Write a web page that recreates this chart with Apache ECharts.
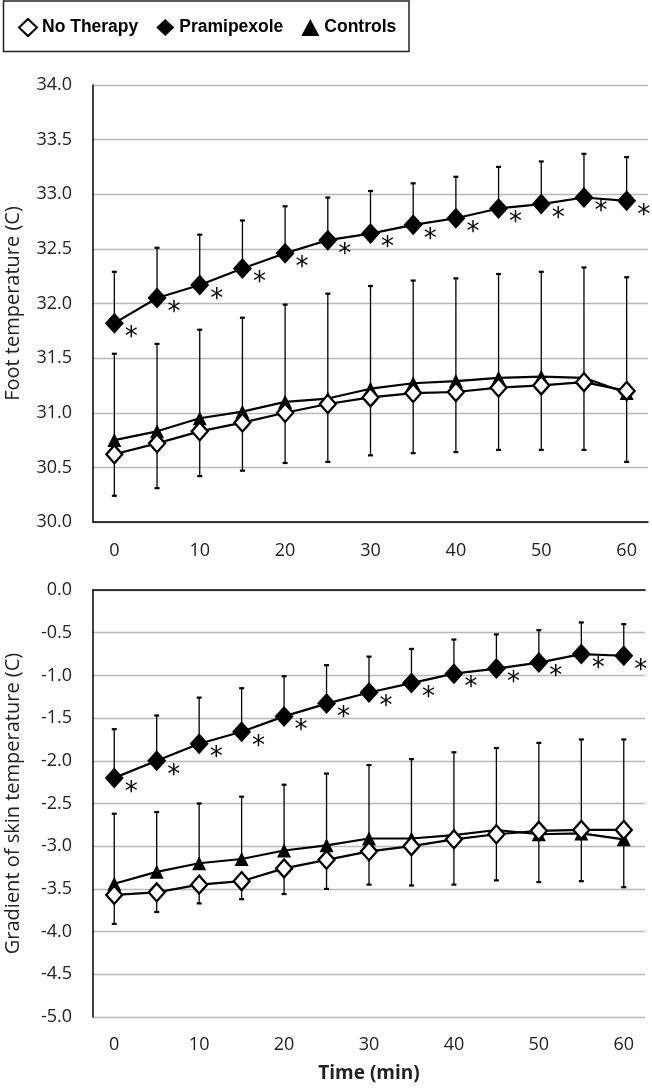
<!DOCTYPE html>
<html>
<head>
<meta charset="utf-8">
<script src="https://cdn.jsdelivr.net/npm/echarts@6/dist/echarts.min.js"></script>
<style>
html,body{margin:0;padding:0;background:#fff;}
#chart{width:652px;height:1090px;}
</style>
</head>
<body>
<div id="chart"></div>
<script>
// ---- data ----
const timeLabels = ['0','5','10','15','20','25','30','35','40','45','50','55','60'];
const seriesNames = ['No Therapy','Pramipexole','Controls'];

// Foot temperature (C)
const footNoTherapy    = [30.62,30.72,30.83,30.91,31.00,31.08,31.14,31.18,31.19,31.23,31.25,31.28,31.20];
const footNoTherapyLow = [30.24,30.31,30.42,30.47,30.54,30.55,30.61,30.63,30.64,30.66,30.66,30.66,30.55];
const footPrami        = [31.82,32.05,32.17,32.32,32.46,32.58,32.64,32.72,32.78,32.87,32.91,32.97,32.94];
const footPramiHigh    = [32.29,32.51,32.63,32.76,32.89,32.97,33.03,33.10,33.16,33.25,33.30,33.37,33.34];
const footControls     = [30.75,30.83,30.95,31.01,31.10,31.13,31.22,31.27,31.29,31.32,31.33,31.32,31.18];
const footControlsHigh = [31.54,31.63,31.76,31.87,31.99,32.09,32.16,32.21,32.23,32.27,32.29,32.33,32.24];

// Gradient of skin temperature (C)
const gradNoTherapy    = [-3.57,-3.54,-3.45,-3.41,-3.26,-3.16,-3.06,-3.00,-2.92,-2.86,-2.82,-2.81,-2.81];
const gradNoTherapyLow = [-3.91,-3.77,-3.67,-3.62,-3.56,-3.50,-3.45,-3.46,-3.45,-3.40,-3.42,-3.41,-3.48];
const gradPrami        = [-2.20,-2.00,-1.80,-1.66,-1.48,-1.33,-1.20,-1.09,-0.98,-0.92,-0.85,-0.75,-0.77];
const gradPramiHigh    = [-1.63,-1.47,-1.26,-1.15,-1.01,-0.88,-0.78,-0.69,-0.58,-0.52,-0.47,-0.38,-0.40];
const gradControls     = [-3.44,-3.30,-3.20,-3.15,-3.05,-2.99,-2.91,-2.91,-2.87,-2.81,-2.86,-2.85,-2.92];
const gradControlsHigh = [-2.62,-2.60,-2.50,-2.42,-2.28,-2.15,-2.05,-1.98,-1.90,-1.85,-1.79,-1.75,-1.75];

const footTicks = {min:30, max:34, interval:0.5};
const gradTicks = {min:-5, max:0, interval:0.5};

// ---- styles ----
const FONT = 'Open Sans';
const GRID_COLOR = '#b8b8b8';

function errData(mean, end){ return mean.map((m,i)=>[i,m,end[i]]); }

function errSeries(idx, mean, end){
  return {
    type:'custom', name:'err', xAxisIndex:idx, yAxisIndex:idx, z:1, silent:true,
    data: errData(mean,end),
    renderItem:function(params, api){
      const p0 = api.coord([api.value(0), api.value(1)]);
      const p1 = api.coord([api.value(0), api.value(2)]);
      const hw = 2.5;
      return {type:'group', children:[
        {type:'line', shape:{x1:p0[0],y1:p0[1],x2:p1[0],y2:p1[1]}, style:{stroke:'#000',lineWidth:1.3}},
        {type:'line', shape:{x1:p1[0]-hw,y1:p1[1],x2:p1[0]+hw,y2:p1[1]}, style:{stroke:'#000',lineWidth:2.2}}
      ]};
    }
  };
}

function lineSeries(idx, name, data){
  const base = {type:'line', name:name, xAxisIndex:idx, yAxisIndex:idx, data:data,
    lineStyle:{color:'#000', width:2.2}, smooth:false, animation:false};
  if(name==='No Therapy'){
    return Object.assign(base,{symbol:'diamond', symbolSize:[16,18], z:5,
      itemStyle:{color:'#fff', borderColor:'#000', borderWidth:2.3}});
  }
  if(name==='Controls'){
    return Object.assign(base,{symbol:'triangle', symbolSize:[14,14], z:4,
      itemStyle:{color:'#000', borderColor:'#000', borderWidth:0}});
  }
  return Object.assign(base,{symbol:'diamond', symbolSize:[19,21], z:6,
    itemStyle:{color:'#000', borderColor:'#000', borderWidth:0},
    label:{show:true, formatter:'*', position:'right', distance:1, offset:[0,15],
      fontFamily:'DejaVu Sans', fontSize:26, color:'#000'}});
}

function yAxisCfg(idx, t, name){
  return {type:'value', gridIndex:idx, min:t.min, max:t.max, interval:t.interval,
    axisLine:{show:true, lineStyle:{color:'#000', width:1.5}},
    axisTick:{show:false},
    axisLabel:{formatter:v=>v.toFixed(1), fontFamily:FONT, fontSize:18, color:'#222', margin:21},
    splitLine:{show:true, lineStyle:{color:GRID_COLOR, width:1.3}},
    name:name, nameLocation:'middle', nameRotate:90, nameGap:70,
    nameTextStyle:{fontFamily:FONT, fontSize:20, color:'#222'}
  };
}

const option = {
  animation:false,
  backgroundColor:'#fff',
  graphic:[{type:'rect', shape:{x:3.5,y:1,width:405.5,height:50.5},
    style:{fill:'none', stroke:'#222', lineWidth:1.5}, z:10}],
  legend:{
    data:[
      {name:'No Therapy', icon:'diamond', itemStyle:{color:'#fff', borderColor:'#000', borderWidth:2}},
      {name:'Pramipexole', icon:'diamond', itemStyle:{color:'#000'}},
      {name:'Controls', icon:'triangle', itemStyle:{color:'#000'}}
    ],
    left:13, top:13, itemWidth:18, itemHeight:17, itemGap:18,
    textStyle:{fontFamily:'Liberation Sans', fontWeight:'bold', fontSize:17.5, color:'#000'},
    selectedMode:false
  },
  grid:[
    {left:93, right:4, top:85, height:437, outerBoundsMode:'none', containLabel:false},
    {left:93, right:7, top:590, height:427, outerBoundsMode:'none', containLabel:false}
  ],
  xAxis:[
    {type:'category', gridIndex:0, data:timeLabels, boundaryGap:true,
      axisLine:{show:true, lineStyle:{color:'#000', width:1.5}}, axisTick:{show:false},
      axisLabel:{interval:1, fontFamily:FONT, fontSize:18, color:'#222', margin:20}},
    {type:'category', gridIndex:1, data:timeLabels, boundaryGap:true,
      axisLine:{show:false}, axisTick:{show:false},
      axisLabel:{interval:1, fontFamily:FONT, fontSize:18, color:'#222', margin:19},
      name:'Time (min)', nameLocation:'middle', nameGap:47,
      nameTextStyle:{fontFamily:FONT, fontSize:19, fontWeight:'bold', color:'#222'}},
    {type:'category', gridIndex:1, data:timeLabels, position:'top', boundaryGap:true,
      axisLine:{show:true, onZero:false, lineStyle:{color:'#000', width:1.5}}, axisTick:{show:false},
      axisLabel:{show:false}}
  ],
  yAxis:[
    yAxisCfg(0, footTicks, 'Foot temperature (C)'),
    yAxisCfg(1, gradTicks, 'Gradient of skin temperature (C)')
  ],
  series:[
    errSeries(0, footNoTherapy, footNoTherapyLow),
    errSeries(0, footControls, footControlsHigh),
    errSeries(0, footPrami, footPramiHigh),
    lineSeries(0, 'Controls', footControls),
    lineSeries(0, 'No Therapy', footNoTherapy),
    lineSeries(0, 'Pramipexole', footPrami),
    errSeries(1, gradNoTherapy, gradNoTherapyLow),
    errSeries(1, gradControls, gradControlsHigh),
    errSeries(1, gradPrami, gradPramiHigh),
    lineSeries(1, 'Controls', gradControls),
    lineSeries(1, 'No Therapy', gradNoTherapy),
    lineSeries(1, 'Pramipexole', gradPrami)
  ]
};

const chart = echarts.init(document.getElementById('chart'), null, {renderer:'canvas'});
chart.setOption(option);
</script>
</body>
</html>
